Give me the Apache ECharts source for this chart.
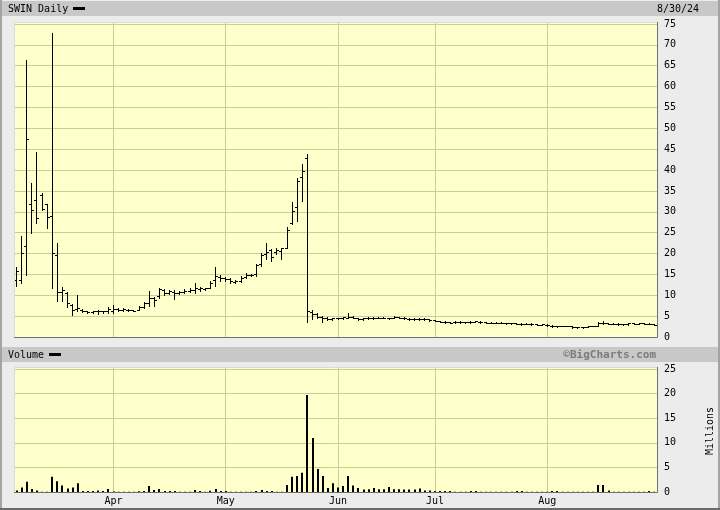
<!DOCTYPE html>
<html><head><meta charset="utf-8">
<script src="https://cdn.jsdelivr.net/npm/echarts@6.0.0/dist/echarts.min.js"></script>
<style>html,body{margin:0;padding:0;background:#ececec}#c{width:720px;height:510px}</style>
</head><body><div id="c"></div>
<script>
// ---- data ----
const categories = [
'03-04','03-05','03-06','03-07','03-08','03-11','03-12','03-13','03-14','03-15','03-18','03-19','03-20','03-21','03-22','03-25','03-26','03-27','03-28',
'04-01','04-02','04-03','04-04','04-05','04-08','04-09','04-10','04-11','04-12','04-15','04-16','04-17','04-18','04-19','04-22','04-23','04-24','04-25','04-26','04-29','04-30',
'05-01','05-02','05-03','05-06','05-07','05-08','05-09','05-10','05-13','05-14','05-15','05-16','05-17','05-20','05-21','05-22','05-23','05-24','05-28','05-29','05-30','05-31',
'06-03','06-04','06-05','06-06','06-07','06-10','06-11','06-12','06-13','06-14','06-17','06-18','06-20','06-21','06-24','06-25','06-26','06-27','06-28',
'07-01','07-02','07-03','07-05','07-08','07-09','07-10','07-11','07-12','07-15','07-16','07-17','07-18','07-19','07-22','07-23','07-24','07-25','07-26','07-29','07-30','07-31',
'08-01','08-02','08-05','08-06','08-07','08-08','08-09','08-12','08-13','08-14','08-15','08-16','08-19','08-20','08-21','08-22','08-23','08-26','08-27','08-28','08-29','08-30'];

const open = [13.3,13.4,21.6,31.6,32.6,33.8,31.6,28.8,19.5,10.6, 10.3,7.5,6.4,6.3,6.0,5.8,5.9,5.9,6.0,6.0,
 6.4,6.2,6.3,6.2,6.2,7.0,8.0,9.2,9.6,11.0, 10.4,10.6,10.4,10.6,10.9,11.0,11.2,11.2,11.6,13.5,
 14.2,13.8,13.6,13.0,13.2,14.2,14.6,14.8,17.2,19.6, 20.6,20.2,20.4,21.0,27.0,31.0,38.0,42.6,5.8,5.2,
 4.6,4.2,4.0,4.2,4.3,4.4,4.6,4.2,4.0,4.2, 4.4,4.3,4.4,4.2,4.3,4.5,4.3,4.1,4.0,4.1,
 4.0,4.0,3.8,3.6,3.4,3.3,3.3,3.4,3.3,3.3, 3.4,3.4,3.3,3.2,3.1,3.2,3.1,3.0,3.0,2.9,
 2.9,2.9,2.8,2.7,2.7,2.5,2.3,2.4,2.4,2.3, 2.1,2.1,2.2,2.4,2.5,3.2,3.0,2.9,2.9,2.8,
 2.8,3.0,2.9,3.0,2.9,2.9];
const high = [16.5,24.0,66.2,36.6,44.0,34.2,31.6,72.6,22.3,11.8, 10.5,7.6,9.8,6.5,6.1,6.1,6.3,6.0,7.0,7.5,
 6.6,6.8,6.5,6.3,7.1,8.2,10.8,9.4,11.6,11.2, 11.0,11.1,10.9,11.2,11.4,12.8,11.8,11.6,13.2,16.6,
 14.6,14.2,14.0,13.4,14.4,15.0,14.8,17.2,19.9,22.4, 20.8,21.0,21.2,26.0,32.0,37.8,41.2,43.6,6.3,5.4,
 4.8,4.5,4.4,4.4,4.6,5.4,4.7,4.4,4.3,4.5, 4.5,4.5,4.6,4.4,4.9,4.6,4.5,4.3,4.2,4.2,
 4.2,4.1,3.9,3.7,3.5,3.4,3.5,3.5,3.4,3.5, 3.6,3.5,3.4,3.3,3.3,3.3,3.2,3.2,3.1,3.0,
 3.0,3.0,2.9,2.9,2.8,2.6,2.5,2.5,2.5,2.4, 2.2,2.2,2.5,2.5,3.4,3.6,3.1,3.0,3.0,2.9,
 3.2,3.1,3.1,3.1,3.0,2.9];
const low = [11.9,12.6,14.6,24.6,27.0,30.2,25.9,11.6,8.4,8.4, 7.0,5.0,6.0,5.8,5.5,5.6,5.3,5.5,5.6,5.6,
 5.9,6.0,6.0,6.0,6.2,6.8,7.2,7.1,9.2,9.8, 10.0,8.8,10.0,10.2,10.5,10.4,10.8,11.0,11.4,12.0,
 13.2,13.2,12.6,12.6,13.0,13.8,14.4,14.4,16.8,18.4, 18.0,19.6,18.4,21.0,26.8,27.6,32.4,3.4,4.0,4.4,
 3.4,3.8,3.9,4.0,4.0,4.2,4.2,3.9,3.9,4.0, 4.0,4.2,4.2,4.0,4.2,4.2,4.0,3.9,3.9,3.8,
 3.9,3.7,3.6,3.3,3.2,3.1,3.2,3.2,3.2,3.2, 3.3,3.2,3.1,3.0,3.0,3.0,2.9,2.9,2.8,2.7,
 2.8,2.7,2.6,2.6,2.5,2.1,2.2,2.3,2.3,2.0, 2.0,2.0,2.1,2.3,2.4,2.8,2.8,2.8,2.7,2.7,
 2.7,2.8,2.8,2.8,2.8,2.6];
const close = [15.5,20.0,47.2,30.2,28.2,30.4,28.6,19.8,10.6,11.0, 7.8,6.3,6.6,6.0,5.8,5.9,5.9,5.9,6.4,6.4,
 6.2,6.5,6.2,6.1,6.9,8.0,9.0,8.6,11.2,10.4, 10.8,10.2,10.6,10.8,11.1,11.4,11.5,11.4,12.8,14.3,
 14.0,13.6,13.2,13.1,14.0,14.6,14.6,17.0,19.4,20.2, 19.0,20.6,21.0,25.4,30.0,37.2,39.6,6.0,5.2,4.6,
 4.2,4.0,4.2,4.2,4.5,4.6,4.3,4.0,4.2,4.4, 4.3,4.4,4.3,4.2,4.6,4.3,4.2,4.1,4.0,4.0,
 4.0,3.8,3.7,3.4,3.3,3.2,3.4,3.3,3.3,3.4, 3.5,3.3,3.2,3.1,3.2,3.1,3.0,3.1,2.9,2.8,
 2.9,2.8,2.7,2.8,2.6,2.3,2.4,2.4,2.4,2.1, 2.1,2.1,2.4,2.4,3.2,3.0,2.9,2.9,2.8,2.8,
 3.0,2.9,3.0,2.9,2.9,2.6];
const volume = [0.3,0.9,2.1,0.6,0.3,0.05,0.05,3.1,2.2,1.3, 0.7,0.9,1.8,0.2,0.2,0.2,0.3,0.2,0.6,0.1,
 0.05,0.05,0.05,0.05,0.15,0.2,1.2,0.4,0.6,0.2, 0.2,0.2,0.05,0.05,0.05,0.4,0.2,0.05,0.25,0.6,
 0.2,0.2,0.05,0.05,0.05,0.05,0.05,0.2,0.4,0.2, 0.2,0.05,0.05,1.4,3.1,3.25,3.9,19.7,11.0,4.7,
 3.25,0.8,1.8,0.9,1.2,3.25,1.3,0.8,0.5,0.55, 0.8,0.55,0.55,1.0,0.55,0.55,0.5,0.5,0.5,0.7,
 0.3,0.3,0.2,0.2,0.2,0.2,0.05,0.05,0.05,0.2, 0.2,0.05,0.05,0.05,0.05,0.05,0.05,0.05,0.2,0.2,
 0.05,0.05,0.05,0.05,0.05,0.2,0.2,0.05,0.05,0.05, 0.05,0.05,0.05,0.05,1.4,1.4,0.3,0.05,0.05,0.05,
 0.05,0.05,0.05,0.05,0.2,0.05];
const monthStartDates = ['04-01','05-01','06-03','07-01','08-01'];
const monthLabels = ['Apr','May','Jun','Jul','Aug'];
const priceAxis = {min: 0, max: 75, interval: 5};
const volumeAxis = {min: 0, max: 25, interval: 5};
const titleText = 'SWIN Daily';
const dateText = '8/30/24';
const volumeTitle = 'Volume';
const volumeUnit = 'Millions';
const creditText = '\u00A9BigCharts.com';

// ---- build ----
const FONT = '"DejaVu Sans Mono", "Liberation Mono", monospace';
const GRIDC = '#CCCC99';
const ohlcData = categories.map((d, i) => [i, open[i], high[i], low[i], close[i]]);
const volData = categories.map((d, i) => [i, volume[i]]);
const monthIdx = monthStartDates.map(d => categories.indexOf(d));
const monthData = monthIdx.map(i => [i, 0]);

function renderOHLC(params, api) {
  const i = api.value(0);
  const pO = api.coord([i, api.value(1)]);
  const pH = api.coord([i, api.value(2)]);
  const pL = api.coord([i, api.value(3)]);
  const pC = api.coord([i, api.value(4)]);
  const x = Math.floor(pO[0]) + 0.5;
  const yO = Math.round(pO[1]) - 0.5;
  const yC = Math.round(pC[1]) - 0.5;
  const yH = Math.round(pH[1]) - 1;
  const yL = Math.round(pL[1]);
  const st = {stroke: '#000', lineWidth: 1};
  return {type: 'group', children: [
    {type: 'line', shape: {x1: x, y1: yH, x2: x, y2: yL}, style: st},
    {type: 'line', shape: {x1: x - 2.5, y1: yO, x2: x + 0.5, y2: yO}, style: st},
    {type: 'line', shape: {x1: x - 0.5, y1: yC, x2: x + 2.5, y2: yC}, style: st}
  ]};
}
function renderVol(params, api) {
  const i = api.value(0);
  const top = api.coord([i, api.value(1)]);
  const base = api.coord([i, 0]);
  const x0 = Math.round(top[0] - 1);
  return {type: 'rect', shape: {x: x0, y: top[1], width: 2, height: base[1] - top[1]}, style: {fill: '#000'}};
}
function renderMonth(params, api) {
  const p = api.coord([api.value(0), 0]);
  const cs = params.coordSys;
  const x = Math.floor(p[0]) + 0.5;
  return {type: 'line', shape: {x1: x, y1: cs.y - 2, x2: x, y2: cs.y + cs.height}, style: {stroke: GRIDC, lineWidth: 1}};
}

const yBase = {
  type: 'value', position: 'right', axisLine: {show: false}, axisTick: {show: false},
  splitLine: {show: true, lineStyle: {color: GRIDC, width: 1}},
  axisLabel: {margin: 7, color: '#000', fontFamily: FONT, fontSize: 10, showMaxLabel: true}
};

const option = {
  animation: false,
  backgroundColor: '#ECECEC',
  grid: [
    {left: 14, right: 63, top: 24, height: 313, containLabel: false, outerBoundsMode: 'none'},
    {left: 14, right: 63, top: 369, height: 123, containLabel: false, outerBoundsMode: 'none'}
  ],
  xAxis: [
    {gridIndex: 0, type: 'category', data: categories, boundaryGap: true,
     axisLine: {show: false}, axisTick: {show: false}, axisLabel: {show: false}, splitLine: {show: false}},
    {gridIndex: 1, type: 'category', data: categories, boundaryGap: true,
     axisLine: {show: false}, axisTick: {show: false}, splitLine: {show: false},
     axisLabel: {show: true, margin: 4, color: '#000', fontFamily: FONT, fontSize: 10,
       interval: (idx) => monthIdx.indexOf(idx) >= 0,
       formatter: (v, idx) => monthLabels[monthIdx.indexOf(idx)] || ''}}
  ],
  yAxis: [
    Object.assign({}, yBase, {gridIndex: 0}, priceAxis),
    Object.assign({}, yBase, {gridIndex: 1}, volumeAxis)
  ],
  series: [
    {type: 'custom', xAxisIndex: 0, yAxisIndex: 0, z: 1, silent: true, renderItem: renderMonth,
     data: monthData, encode: {x: 0, y: 1}},
    {type: 'custom', xAxisIndex: 1, yAxisIndex: 1, z: 1, silent: true, renderItem: renderMonth,
     data: monthData, encode: {x: 0, y: 1}},
    {type: 'custom', name: 'SWIN', xAxisIndex: 0, yAxisIndex: 0, z: 3, renderItem: renderOHLC,
     data: ohlcData, encode: {x: 0, y: [1, 2, 3, 4]}},
    {type: 'custom', name: 'Volume', xAxisIndex: 1, yAxisIndex: 1, z: 3, renderItem: renderVol,
     data: volData, encode: {x: 0, y: 1}}
  ],
  graphic: [
    {type: 'rect', z: -100, shape: {x: 2, y: 1, width: 716, height: 15}, style: {fill: '#C8C8C8'}},
    {type: 'rect', z: -100, shape: {x: 2, y: 347, width: 716, height: 15}, style: {fill: '#C8C8C8'}},
    {type: 'rect', z: -100, shape: {x: 14, y: 22, width: 643, height: 315}, style: {fill: '#FFFFCC'}},
    {type: 'rect', z: -100, shape: {x: 14, y: 367, width: 643, height: 125}, style: {fill: '#FFFFCC'}},
    {type: 'polyline', z: 100, shape: {points: [[14, 337.5], [657.5, 337.5], [657.5, 22]]}, style: {stroke: '#707070', lineWidth: 1, fill: null}},
    {type: 'polyline', z: 100, shape: {points: [[14, 492.5], [657.5, 492.5], [657.5, 367]]}, style: {stroke: '#707070', lineWidth: 1, fill: null}},
    {type: 'polyline', z: 100, shape: {points: [[14.5, 337], [14.5, 22.5], [657, 22.5]]}, style: {stroke: '#DADADA', lineWidth: 1, fill: null}},
    {type: 'polyline', z: 100, shape: {points: [[14.5, 492], [14.5, 367.5], [657, 367.5]]}, style: {stroke: '#DADADA', lineWidth: 1, fill: null}},
    {type: 'rect', z: 100, shape: {x: 0, y: 0, width: 2, height: 510}, style: {fill: '#A4A4A4'}},
    {type: 'rect', z: 100, shape: {x: 718, y: 0, width: 2, height: 510}, style: {fill: '#A4A4A4'}},
    {type: 'rect', z: 100, shape: {x: 0, y: 508, width: 720, height: 2}, style: {fill: '#6A6A6A'}},
    {type: 'rect', z: 100, shape: {x: 73, y: 7, width: 12, height: 3}, style: {fill: '#000'}},
    {type: 'rect', z: 100, shape: {x: 49, y: 353, width: 12, height: 3}, style: {fill: '#000'}},
    {type: 'text', z: 100, x: 8, y: 9, style: {text: titleText, font: '10px ' + FONT, fill: '#000', align: 'left', verticalAlign: 'middle'}},
    {type: 'text', z: 100, x: 657, y: 9, style: {text: dateText, font: '10px ' + FONT, fill: '#000', align: 'left', verticalAlign: 'middle'}},
    {type: 'text', z: 100, x: 8, y: 355, style: {text: volumeTitle, font: '10px ' + FONT, fill: '#000', align: 'left', verticalAlign: 'middle'}},
    {type: 'text', z: 100, x: 656, y: 355, style: {text: creditText, font: 'bold 11px ' + FONT, fill: '#7C7C7C', align: 'right', verticalAlign: 'middle'}},
    {type: 'text', z: 100, x: 710, y: 431, rotation: Math.PI / 2, style: {text: volumeUnit, font: '10px ' + FONT, fill: '#000', align: 'center', verticalAlign: 'middle'}}
  ]
};

const chart = echarts.init(document.getElementById('c'), null, {renderer: 'canvas', width: 720, height: 510});
chart.setOption(option);
</script>
</body></html>
